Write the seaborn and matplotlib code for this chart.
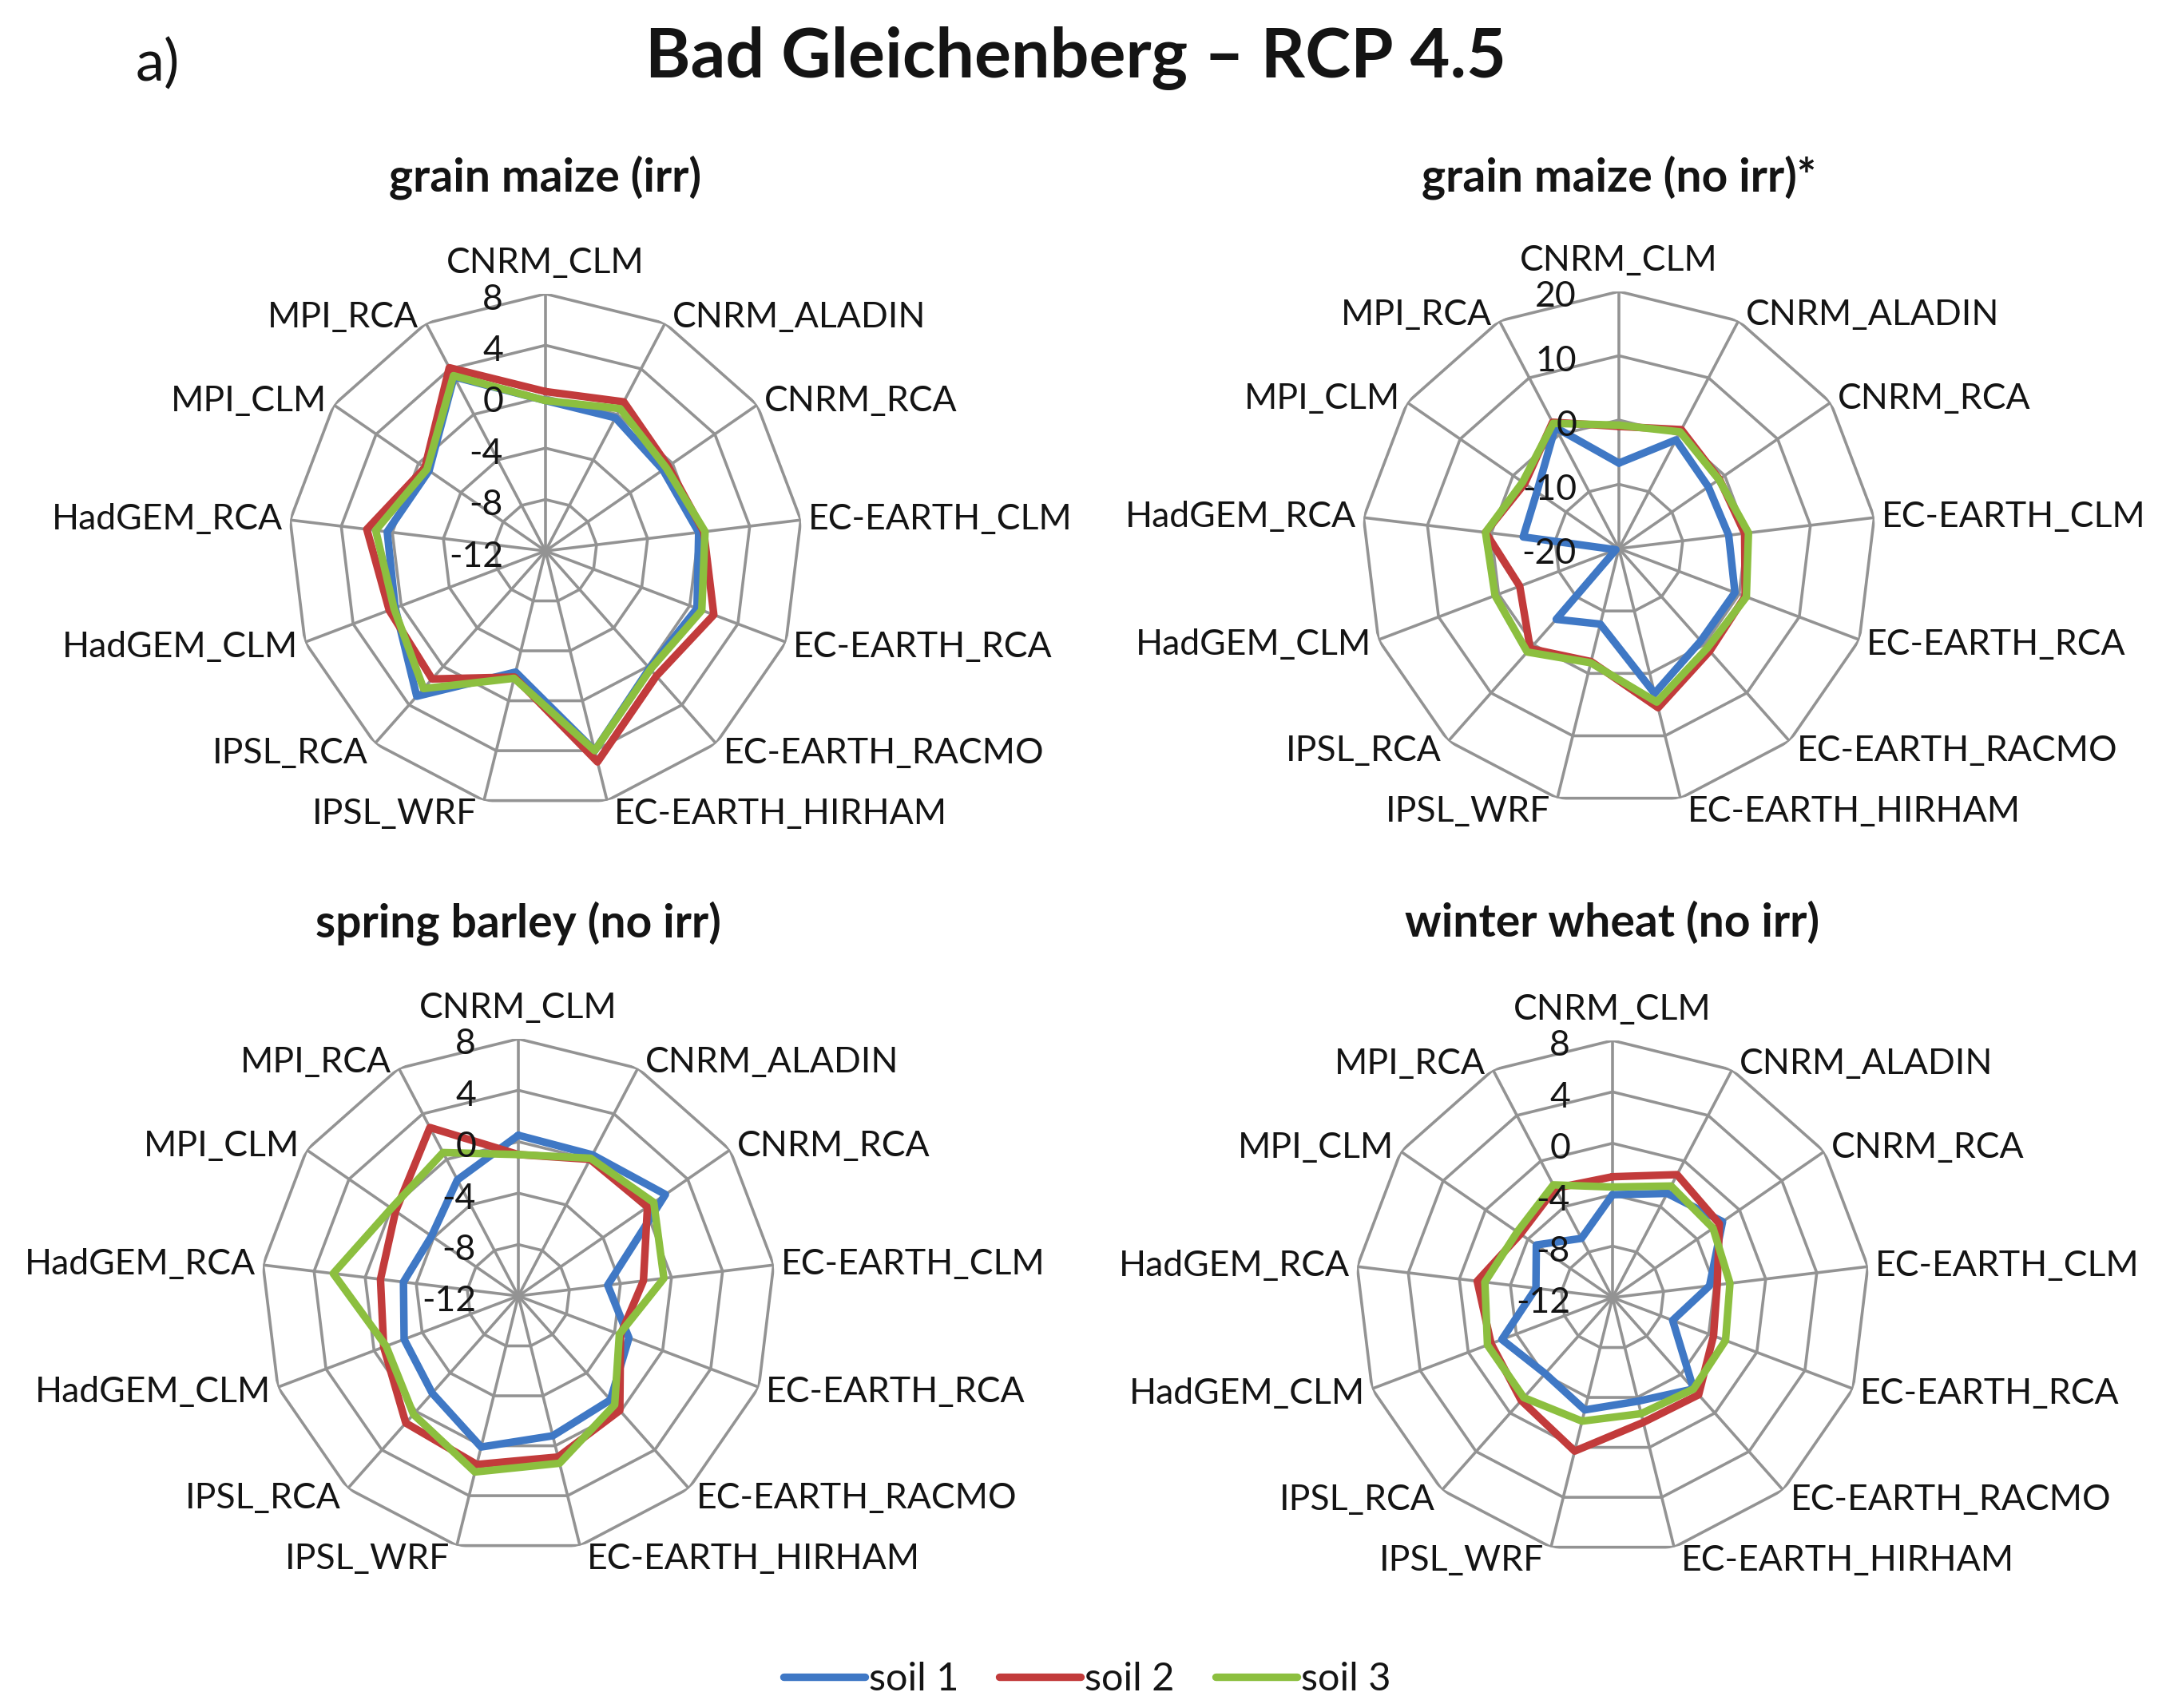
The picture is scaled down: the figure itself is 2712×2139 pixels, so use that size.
import numpy as np
import pandas as pd
import matplotlib
matplotlib.use("Agg")
import matplotlib.pyplot as plt
from matplotlib.lines import Line2D
import seaborn as sns

# climate model combinations (spokes, clockwise from top)
categories = ['CNRM_CLM', 'CNRM_ALADIN', 'CNRM_RCA', 'EC-EARTH_CLM', 'EC-EARTH_RCA',
              'EC-EARTH_RACMO', 'EC-EARTH_HIRHAM', 'IPSL_WRF', 'IPSL_RCA',
              'HadGEM_CLM', 'HadGEM_RCA', 'MPI_CLM', 'MPI_RCA']
soil_names = ['soil 1', 'soil 2', 'soil 3']
soil_colors = ['#3F78C5', '#C23B3B', '#8CBF3F']

# yield change values
maize_irr_s1 = [-0.3, -0.3, -0.9, 0.0, 0.6, 0.2, 4.0, -2.3, 3.1, 0.5, 0.4, -1.0, 3.3]
maize_irr_s2 = [0.4, 1.1, -0.4, 0.4, 2.0, 1.0, 4.9, -1.9, 1.3, 1.0, 2.0, -0.6, 4.1]
maize_irr_s3 = [-0.3, 0.5, -0.6, 0.5, 1.0, 0.3, 4.0, -1.8, 2.3, 0.6, 1.3, -0.8, 3.4]

maize_noirr_s1 = [-6.7, -0.9, -3.1, -2.8, -0.7, -0.8, 3.2, -7.9, -5.3, -19.5, -5.0, -4.5, 1.3]
maize_noirr_s2 = [-1.0, 0.9, -1.0, -0.3, 1.0, 1.3, 5.5, -1.9, 0.8, -3.5, 0.9, -2.2, 2.2]
maize_noirr_s3 = [-0.8, 0.5, -1.1, 0.3, 1.2, 0.7, 4.6, -1.7, 1.5, 0.6, 0.9, -1.8, 2.0]

barley_s1 = [0.5, 0.4, 1.9, -5.0, -2.8, -1.2, -0.8, 0.1, -1.9, -2.5, -3.0, -3.8, -1.8]
barley_s2 = [-1.0, 0.0, 0.2, -2.2, -3.5, -0.1, 0.9, 1.5, 1.2, -0.8, -1.2, -0.4, 2.8]
barley_s3 = [-1.0, 0.1, 0.8, -0.6, -3.6, -0.7, 1.4, 2.1, 0.3, -1.0, 2.5, 0.0, 0.6]

wheat_s1 = [-4.0, -2.85, -1.6, -4.4, -7.0, -2.5, -3.7, -3.0, -4.1, -2.8, -6.0, -4.8, -6.8]
wheat_s2 = [-2.6, -1.2, -1.9, -3.8, -3.6, -1.9, -2.0, 0.3, -1.3, -1.9, -1.4, -3.3, -2.4]
wheat_s3 = [-3.4, -2.2, -2.5, -2.8, -2.6, -2.5, -2.7, -2.1, -1.6, -1.6, -2.0, -3.0, -2.1]

panel_titles = ['grain maize (irr)', 'grain maize (no irr)*',
                'spring barley (no irr)', 'winter wheat (no irr)']
panel_ticks = [[-12, -8, -4, 0, 4, 8], [-20, -10, 0, 10, 20],
               [-12, -8, -4, 0, 4, 8], [-12, -8, -4, 0, 4, 8]]
panel_series = [[maize_irr_s1, maize_irr_s2, maize_irr_s3],
                [maize_noirr_s1, maize_noirr_s2, maize_noirr_s3],
                [barley_s1, barley_s2, barley_s3],
                [wheat_s1, wheat_s2, wheat_s3]]

sns.set_theme(style='white')
plt.rcParams['font.family'] = ['Lato', 'DejaVu Sans']

W, H = 2712, 2139
PT = 0.72  # px -> pt at dpi 100
fig = plt.figure(figsize=(W / 100, H / 100), dpi=100)

centers = [(683, 690), (2027, 687), (649, 1623), (2019, 1625)]
title_y = [222, 222, 1156, 1156]
R = 322
grid_col = '#939393'
text_col = '#141414'
lab_size = 32


def draw_radar(ax, series, ticks):
    n = len(categories)
    angles = np.linspace(0, 2 * np.pi, n, endpoint=False)
    closed = np.append(angles, 2 * np.pi)

    for t in ticks[1:]:
        ax.plot(closed, [t] * (n + 1), color=grid_col, lw=2.6, zorder=1)
    for a in angles:
        ax.plot([a, a], [ticks[0], ticks[-1]], color=grid_col, lw=2.6, zorder=1)

    df = pd.DataFrame({
        'angle': np.tile(closed, len(series)),
        'value': np.concatenate([list(s) + [s[0]] for s in series]),
        'soil': np.repeat(soil_names, n + 1),
    })
    sns.lineplot(data=df, x='angle', y='value', hue='soil', palette=soil_colors,
                 sort=False, estimator=None, lw=6.8, ax=ax, legend=False,
                 solid_joinstyle='round', solid_capstyle='round', zorder=3)

    ax.set_theta_zero_location('N')
    ax.set_theta_direction(-1)
    ax.set_ylim(ticks[0], ticks[-1])
    ax.set_xticks([])
    ax.set_yticks([])
    ax.grid(False)
    ax.spines['polar'].set_visible(False)
    ax.set_xlabel('')
    ax.set_ylabel('')

    # category labels around the outer ring
    for name, a in zip(categories, angles):
        s, c = np.sin(a), np.cos(a)
        if abs(s) < 0.01:
            ha, va, dx, dy = 'center', 'bottom', 0, 18
        else:
            ha = 'left' if s > 0 else 'right'
            va = 'center'
            dx = 9 if s > 0 else -9
            dy = 8 * c if c > 0 else 17 * c
        ax.annotate(name, xy=(a, ticks[-1]), xytext=(dx * PT, dy * PT),
                    textcoords='offset points', ha=ha, va=va, fontsize=lab_size,
                    color=text_col, annotation_clip=False)

    # value labels along the vertical axis
    for t in ticks:
        ax.annotate(str(t), xy=(0, t), xytext=(-53 * PT, -7 * PT),
                    textcoords='offset points', ha='right', va='center',
                    fontsize=lab_size, color=text_col, annotation_clip=False,
                    zorder=5)


for (cx, cy), ty, title, series, ticks in zip(centers, title_y, panel_titles,
                                              panel_series, panel_ticks):
    ax = fig.add_axes([(cx - R) / W, 1 - (cy + R) / H, 2 * R / W, 2 * R / H],
                      projection='polar')
    draw_radar(ax, series, ticks)
    fig.text(cx / W, 1 - ty / H, title, ha='center', va='center',
             fontsize=41, fontweight='bold', color=text_col)

fig.text(1347 / W, 1 - 73 / H, 'Bad Gleichenberg \u2013 RCP 4.5', ha='center',
         va='center', fontsize=62, fontweight='bold', color=text_col)
fig.text(197 / W, 1 - 80 / H, 'a)', ha='center', va='center', fontsize=52,
         color=text_col)

handles = [Line2D([0], [0], color=c, lw=6.8, solid_capstyle='round')
           for c in soil_colors]
fig.legend(handles, soil_names, loc='center', bbox_to_anchor=(1361 / W, 1 - 2103 / H),
           ncol=3, frameon=False, handlelength=2.1, handletextpad=0.1,
           columnspacing=1.05, fontsize=35, labelcolor=text_col)

fig.savefig('out.png', dpi=100, facecolor='white')
